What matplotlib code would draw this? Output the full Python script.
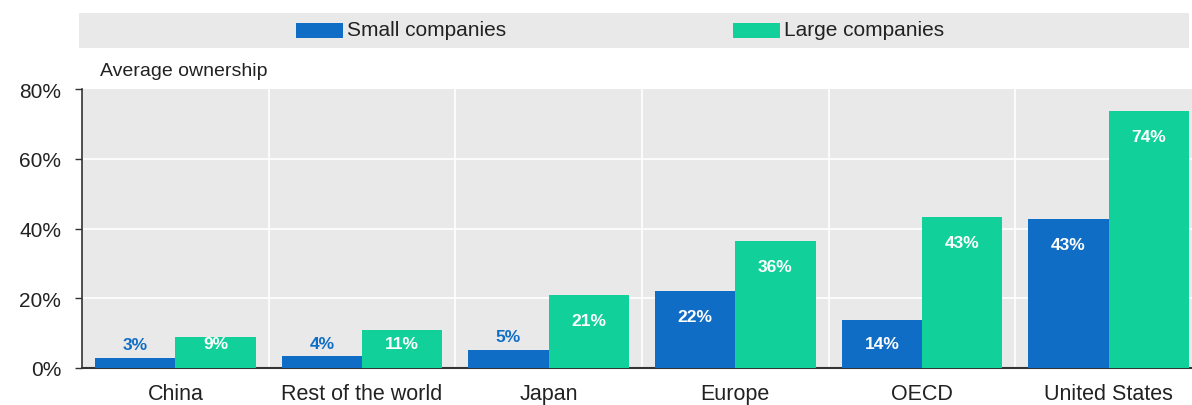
import numpy as np
import matplotlib.pyplot as plt
from matplotlib.patches import Rectangle

categories = ["China", "Rest of the world", "Japan", "Europe", "OECD", "United States"]
small = [3.0, 3.5, 5.3, 22.0, 13.8, 42.6]
large = [8.9, 10.9, 20.8, 36.3, 43.2, 73.7]
series_names = ["Small companies", "Large companies"]
yticks = [0, 20, 40, 60, 80]

blue = "#106DC6"
green = "#12D09A"
bg = "#E9E9E9"

plt.rcParams['font.family'] = ['Liberation Sans Narrow', 'Liberation Sans', 'DejaVu Sans']

W, H = 1192, 406
fig = plt.figure(figsize=(W / 100, H / 100), dpi=100)
ax = fig.add_axes([82 / W, 37 / H, 1120 / W, 279 / H])
ax.set_facecolor(bg)

x = np.arange(len(categories))
bw = 0.43
ax.bar(x - bw / 2, small, bw, color=blue, zorder=3)
ax.bar(x + bw / 2, large, bw, color=green, zorder=3)

ax.set_xlim(-0.5, len(categories) - 0.5)
ax.set_ylim(0, 80)
ax.set_yticks(yticks)
ax.set_yticklabels([f"{t}%" for t in yticks], fontsize=15, color="#222222")
ax.set_xticks(x)
ax.set_xticklabels(categories, fontsize=15.5, color="#222222")
ax.tick_params(axis="x", length=0, pad=11)
ax.tick_params(axis="y", length=5, width=1, color="#333333", pad=10)

for yv in yticks[1:-1]:
    ax.axhline(yv, color="white", lw=1.2, zorder=1)
for xv in x[:-1] + 0.5:
    ax.axvline(xv, color="white", lw=1.2, zorder=1)

for s in ["top", "right"]:
    ax.spines[s].set_visible(False)
ax.spines["left"].set_color("#333333")
ax.spines["bottom"].set_color("#333333")
ax.spines["left"].set_linewidth(1.2)
ax.spines["bottom"].set_linewidth(1.5)

def add_label(xp, v, col_in):
    txt = f"{round(v)}%"
    if v < 10:
        ax.text(xp, v + 3.6, txt, ha="center", va="center", fontsize=12.5,
                fontweight="bold", color=col_in, zorder=4)
    else:
        ax.text(xp, max(v - 7.2, 6.9), txt, ha="center", va="center", fontsize=12.5,
                fontweight="bold", color="white", zorder=4)

for i in range(len(categories)):
    add_label(x[i] - bw / 2, small[i], blue)
    if large[i] < 10:
        ax.text(x[i] + bw / 2, 6.9, f"{round(large[i])}%", ha="center", va="center",
                fontsize=12.5, fontweight="bold", color="white", zorder=4)
    else:
        add_label(x[i] + bw / 2, large[i], blue)

fig.text(100 / W, 1 - 72 / H, "Average ownership", fontsize=14, color="#222222",
         ha="left", va="center")

# legend band
fig.patches.append(Rectangle((79 / W, 1 - 49 / H), 1110 / W, 35 / H,
                             transform=fig.transFigure, facecolor=bg, edgecolor="none"))
leg_x = [296, 733]
for lx, name, col in zip(leg_x, series_names, [blue, green]):
    fig.patches.append(Rectangle((lx / W, 1 - 39 / H), 47 / W, 15 / H,
                                 transform=fig.transFigure, facecolor=col, edgecolor="none"))
    fig.text((lx + 51) / W, 1 - 31 / H, name, fontsize=15, color="#222222",
             ha="left", va="center")

fig.savefig("out.png", dpi=100)
